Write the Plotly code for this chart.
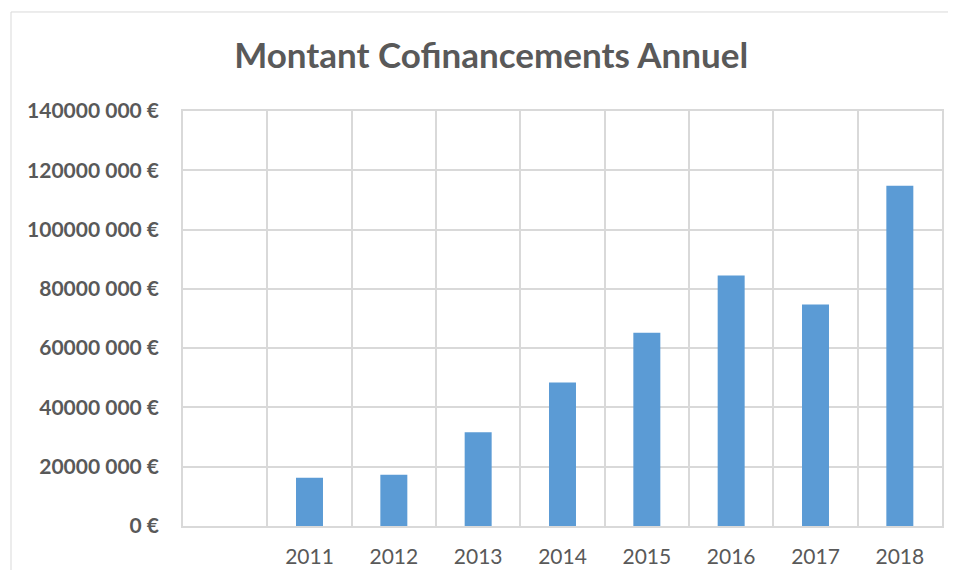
import plotly.graph_objects as go

# data
years = [" ", "2011", "2012", "2013", "2014", "2015", "2016", "2017", "2018"]
montants = [None, 16.3e6, 17.3e6, 31.6e6, 48.4e6, 65.2e6, 84.5e6, 74.7e6, 114.8e6]
y_ticks = [0, 20e6, 40e6, 60e6, 80e6, 100e6, 120e6, 140e6]
y_labels = ["0 €", "20000 000 €", "40000 000 €", "60000 000 €", "80000 000 €",
            "100000 000 €", "120000 000 €", "140000 000 €"]

grey = "#595959"
grid = "#D9D9D9"

fig = go.Figure()
fig.add_trace(go.Bar(x=years, y=montants, marker_color="#5B9BD5",
                     marker_line_width=0, showlegend=False))

# page body has an 8px margin, so the figure is a bit smaller than the window
fig.update_layout(
    width=940, height=562,
    margin=dict(l=175, r=6, t=103, b=44),
    paper_bgcolor="white", plot_bgcolor="white",
    bargap=0.68,
    font=dict(family="Lato, 'Open Sans', sans-serif", color=grey),
    title=dict(text="<b>Montant Cofinancements Annuel</b>",
               x=0.514, xanchor="center", y=0.9146, yanchor="middle",
               font=dict(size=35, color=grey)),
)

fig.update_xaxes(type="category", tickson="boundaries", showgrid=True,
                 gridcolor=grid, gridwidth=1.5, showline=True, linecolor=grid,
                 linewidth=1.5, mirror=True, ticks="", ticklabelstandoff=11,
                 tickfont=dict(size=21, color=grey), range=[-0.5, 8.5],
                 automargin=False)
fig.update_yaxes(range=[0, 140e6], tickvals=y_ticks, ticktext=y_labels,
                 showgrid=True, gridcolor=grid, gridwidth=1.5, showline=True,
                 linecolor=grid, linewidth=1.5, mirror=True, zeroline=False,
                 ticklabelstandoff=18, automargin=False,
                 tickfont=dict(size=21, color=grey, weight="bold"))

# outer chart frame (left and top edges only, the rest is off-page)
fig.add_shape(type="line", xref="paper", yref="paper",
              x0=-0.2266, x1=-0.2266, y0=-0.106, y1=1.2386,
              line=dict(color=grid, width=1), layer="below")
fig.add_shape(type="line", xref="paper", yref="paper",
              x0=-0.2266, x1=1.0079, y0=1.2386, y1=1.2386,
              line=dict(color=grid, width=1), layer="below")

fig.write_html("out.html")
